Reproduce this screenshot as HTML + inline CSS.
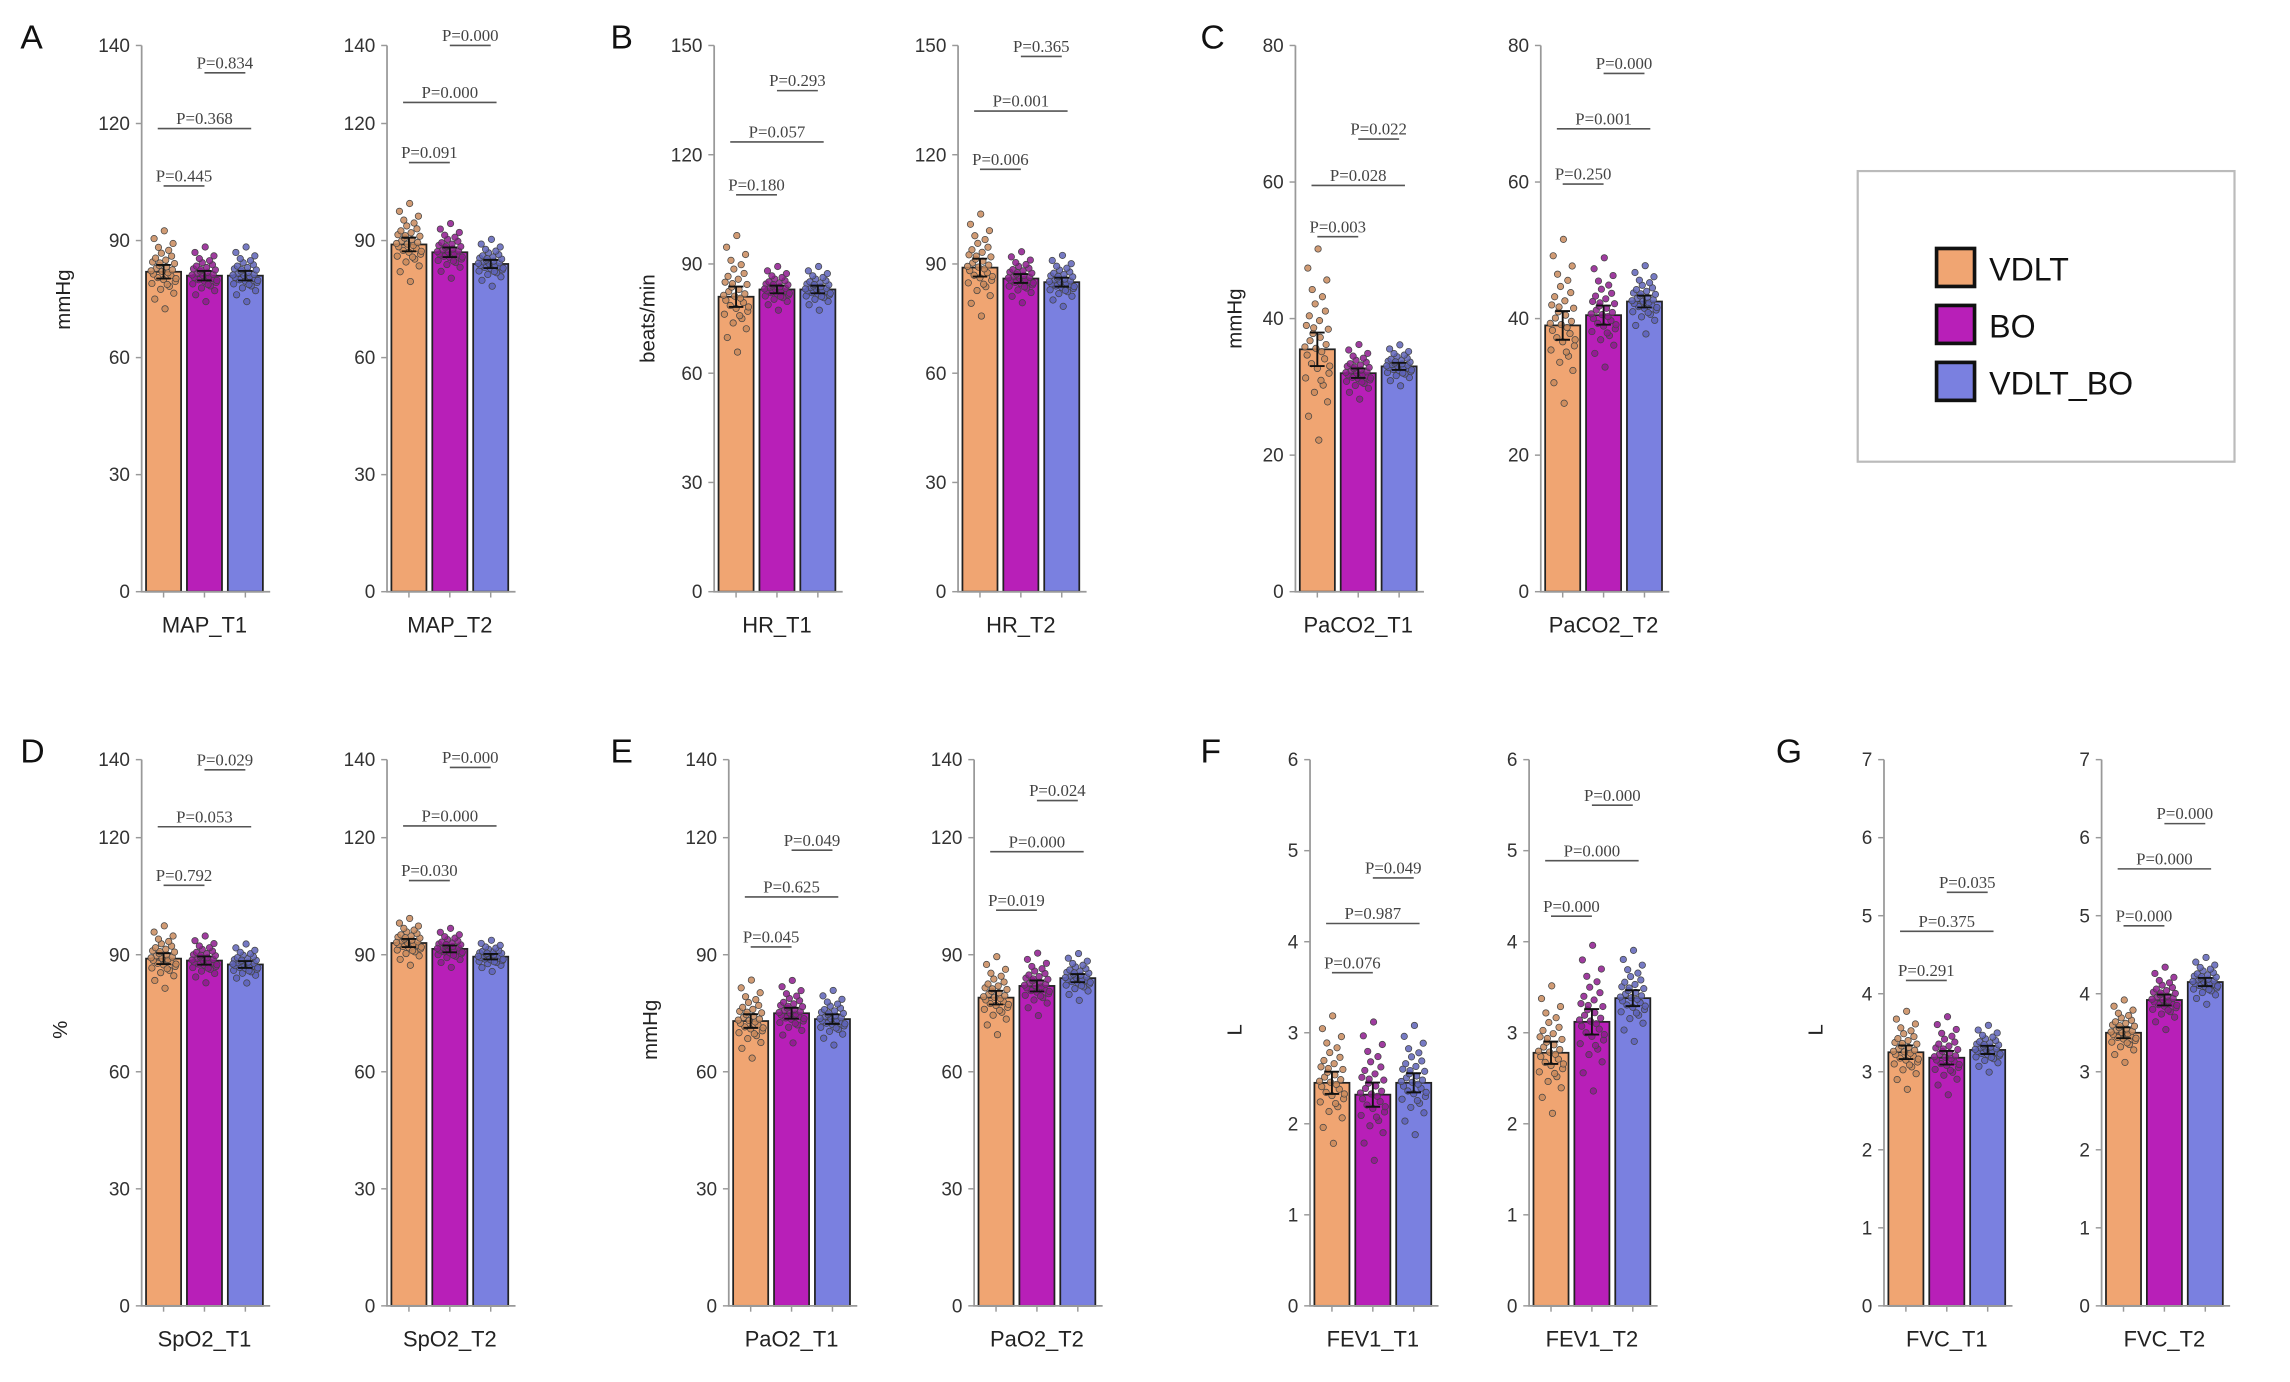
<!DOCTYPE html>
<html><head><meta charset="utf-8">
<style>
html,body{margin:0;padding:0;background:#fff;}
svg{display:block;}
.tick{font-family:"Liberation Sans",sans-serif;font-size:13px;fill:#333;}
.cat{font-family:"Liberation Sans",sans-serif;font-size:15px;fill:#222;}
.ptxt{font-family:"Liberation Serif",serif;font-size:11.5px;fill:#444;}
.letter{font-family:"Liberation Sans",sans-serif;font-size:23px;fill:#111;}
.ytitle{font-family:"Liberation Sans",sans-serif;font-size:14px;fill:#222;}
.leg{font-family:"Liberation Sans",sans-serif;font-size:22px;fill:#111;}
</style></head>
<body>
<svg id="fig" width="2290" height="1382" viewBox="0 0 1568 946" xmlns="http://www.w3.org/2000/svg">
<rect width="1568" height="946" fill="#fff"/>
<g id="legend">
 <rect x="1272" y="117" width="258" height="199" fill="#fff" stroke="#bbb" stroke-width="1.5"/>
 <g><rect x="1326" y="170" width="26" height="26" fill="#f0a572" stroke="#111" stroke-width="2.5"/><text class="leg" x="1362" y="192">VDLT</text></g>
 <g><rect x="1326" y="209" width="26" height="26" fill="#b81fb8" stroke="#111" stroke-width="2.5"/><text class="leg" x="1362" y="231">BO</text></g>
 <g><rect x="1326" y="248" width="26" height="26" fill="#7a80e0" stroke="#111" stroke-width="2.5"/><text class="leg" x="1362" y="270">VDLT_BO</text></g>
</g>
</svg>
<script>
// ---- data ----
const groups = ["VDLT","BO","VDLT_BO"];
const categories = ["MAP_T1","MAP_T2","HR_T1","HR_T2","PaCO2_T1","PaCO2_T2","SpO2_T1","SpO2_T2","PaO2_T1","PaO2_T2","FEV1_T1","FEV1_T2","FVC_T1","FVC_T2"];
const means = [[82,81,81],[89,87,84],[81,83,83],[89,86,85],[35.5,32,33],[39,40.5,42.5],[89,88.5,87.5],[93,91.5,89.5],[73,75,73.5],[79,82,84],[2.45,2.32,2.45],[2.78,3.12,3.38],[3.25,3.18,3.28],[3.5,3.92,4.15]];
const sds = [[5,3.5,3.5],[5,3.5,3],[8,3,3],[7,3.5,3.5],[7,2,1.5],[6,4,2.5],[4,3,2.5],[3,2.5,2],[5,4,3.5],[5,4,3],[0.35,0.38,0.3],[0.35,0.4,0.25],[0.25,0.25,0.15],[0.2,0.2,0.15]];
const pTexts = [["P=0.445","P=0.368","P=0.834"],["P=0.091","P=0.000","P=0.000"],["P=0.180","P=0.057","P=0.293"],["P=0.006","P=0.001","P=0.365"],["P=0.003","P=0.028","P=0.022"],["P=0.250","P=0.001","P=0.000"],["P=0.792","P=0.053","P=0.029"],["P=0.030","P=0.000","P=0.000"],["P=0.045","P=0.625","P=0.049"],["P=0.019","P=0.000","P=0.024"],["P=0.076","P=0.987","P=0.049"],["P=0.000","P=0.000","P=0.000"],["P=0.291","P=0.375","P=0.035"],["P=0.000","P=0.000","P=0.000"]];
const pLevels = [[104,118.7,133],[110,125.4,140],[109,123.5,137.6],[116,132,147],[52,59.5,66.3],[59.7,67.8,75.9],[107.8,122.8,137.4],[109,123,138],[92,104.8,116.8],[101.4,116.4,129.5],[3.66,4.2,4.7],[4.28,4.89,5.5],[4.17,4.8,5.3],[4.87,5.6,6.18]];
const yTicks = [[0,30,60,90,120,140],[0,30,60,90,120,150],[0,20,40,60,80],[0,30,60,90,120,140],[0,30,60,90,120,140],[0,1,2,3,4,5,6],[0,1,2,3,4,5,6,7]];
const yMax = [140,150,80,140,140,6,7];
const zScores = [-1.9,-1.4,-1.1,-0.9,-0.75,-0.6,-0.5,-0.4,-0.3,-0.2,-0.12,-0.05,0.02,0.1,0.18,0.25,0.33,0.42,0.5,0.6,0.7,0.8,0.95,1.1,1.25,1.45,1.7,2.1,-0.35,0.05,-0.65,0.45];
const xJit = [0.1,-0.6,0.7,-0.2,0.4,-0.8,0.8,0.0,-0.4,0.5,-0.7,0.3,-0.1,0.6,-0.5,0.2,-0.3,0.75,-0.75,0.15,-0.55,0.55,-0.15,0.35,-0.35,0.65,-0.65,0.05,0.85,-0.85,0.25,-0.25];
// ---- layout ----
const panels = [
 {letter:"A",lx:14,ly:33,title:"mmHg",tx:48,ty:205,axes:[97,265],base:405,top:31,ci:[0,1],scale:0},
 {letter:"B",lx:418,ly:33,title:"beats/min",tx:448,ty:218,axes:[489,656],base:405,top:31,ci:[2,3],scale:1},
 {letter:"C",lx:822,ly:33,title:"mmHg",tx:850,ty:218,axes:[887,1055],base:405,top:31,ci:[4,5],scale:2},
 {letter:"D",lx:14,ly:522,title:"%",tx:46,ty:705,axes:[97,265],base:894,top:520,ci:[6,7],scale:3},
 {letter:"E",lx:418,ly:522,title:"mmHg",tx:450,ty:705,axes:[499,667],base:894,top:520,ci:[8,9],scale:4},
 {letter:"F",lx:822,ly:522,title:"L",tx:850,ty:705,axes:[897,1047],base:894,top:520,ci:[10,11],scale:5},
 {letter:"G",lx:1216,ly:522,title:"L",tx:1248,ty:705,axes:[1290,1439],base:894,top:520,ci:[12,13],scale:6}
];
const fills = ["#f0a572","#b81fb8","#7a80e0"];
const dotFill = ["#c98a5c","#8e1a8e","#5e63b8"];
const svg = document.getElementById('fig');
const NS = "http://www.w3.org/2000/svg";
function mk(tag, attrs, parent){const e=document.createElementNS(NS,tag);for(const k in attrs)e.setAttribute(k,attrs[k]);(parent||svg).appendChild(e);return e;}
panels.forEach((p,pi)=>{
  const g = mk('g',{});
  
  
  const L = mk('text',{x:p.lx,y:p.ly,class:'letter'},g); L.textContent=p.letter;
   
  const T = mk('text',{x:p.tx,y:p.ty,class:'ytitle','text-anchor':'middle',transform:`rotate(-90 ${p.tx} ${p.ty})`},g); T.textContent=p.title;
   
  const max = yMax[p.scale];
  const yS = v => p.base - (v/max)*(p.base-p.top);
  p.ci.forEach((ci,k)=>{
    const ax = p.axes[k];
    const sub = mk('g',{},g);
    
    
    const xC = i => ax + 15 + i*28;
    // bars
    means[ci].forEach((m,i)=>{
      const b = mk('rect',{x:xC(i)-12,y:yS(m),width:24,height:p.base-yS(m),fill:fills[i],stroke:'#222','stroke-width':1.2},sub);
      
      
    });
    // dots
    means[ci].forEach((m,i)=>{
      zScores.forEach((z,j)=>{
        const d = mk('circle',{cx:xC(i)+xJit[j]*10,cy:yS(m+z*sds[ci][i]),r:2.2,fill:dotFill[i],stroke:'#444','stroke-width':0.5,'fill-opacity':0.85},sub);
        
        
      });
      const eh = sds[ci][i]*0.35;
      mk('path',{d:`M${xC(i)} ${yS(m-eh)}V${yS(m+eh)}M${xC(i)-5} ${yS(m+eh)}H${xC(i)+5}M${xC(i)-5} ${yS(m-eh)}H${xC(i)+5}`,stroke:'#111','stroke-width':1.3,fill:'none'},sub);
    });
    // axes
    const axis = mk('path',{d:`M${ax} ${p.top}V${p.base}H${ax+88}`,stroke:'#999','stroke-width':1.2,fill:'none'},sub);
     
    [0,1,2].forEach(i=>mk('line',{x1:xC(i),x2:xC(i),y1:p.base,y2:p.base+4,stroke:'#999','stroke-width':1},sub));
    yTicks[p.scale].forEach(t=>{
      mk('line',{x1:ax-4,x2:ax,y1:yS(t),y2:yS(t),stroke:'#999','stroke-width':1},sub);
      const tl = mk('text',{x:ax-8,y:yS(t)+4.5,class:'tick','text-anchor':'end'},sub); tl.textContent=t;
       
    });
    const cl = mk('text',{x:ax+43,y:p.base+28,class:'cat','text-anchor':'middle'},sub); cl.textContent=categories[ci];
     
    // p annotations
    const pairs=[[0,1],[0,2],[1,2]];
    pairs.forEach((pr,j)=>{
      const y = yS(pLevels[ci][j]);
      const x1=xC(pr[0])+(j==1?-4:0), x2=xC(pr[1])+(j==1?4:0);
      mk('line',{x1:x1,x2:x2,y1:y,y2:y,stroke:'#555','stroke-width':1.1},sub);
      const pt = mk('text',{x:(x1+x2)/2,y:y-3,class:'ptxt','text-anchor':'middle'},sub); pt.textContent=pTexts[ci][j];
       
    });
  });
});
</script>
</body></html>
